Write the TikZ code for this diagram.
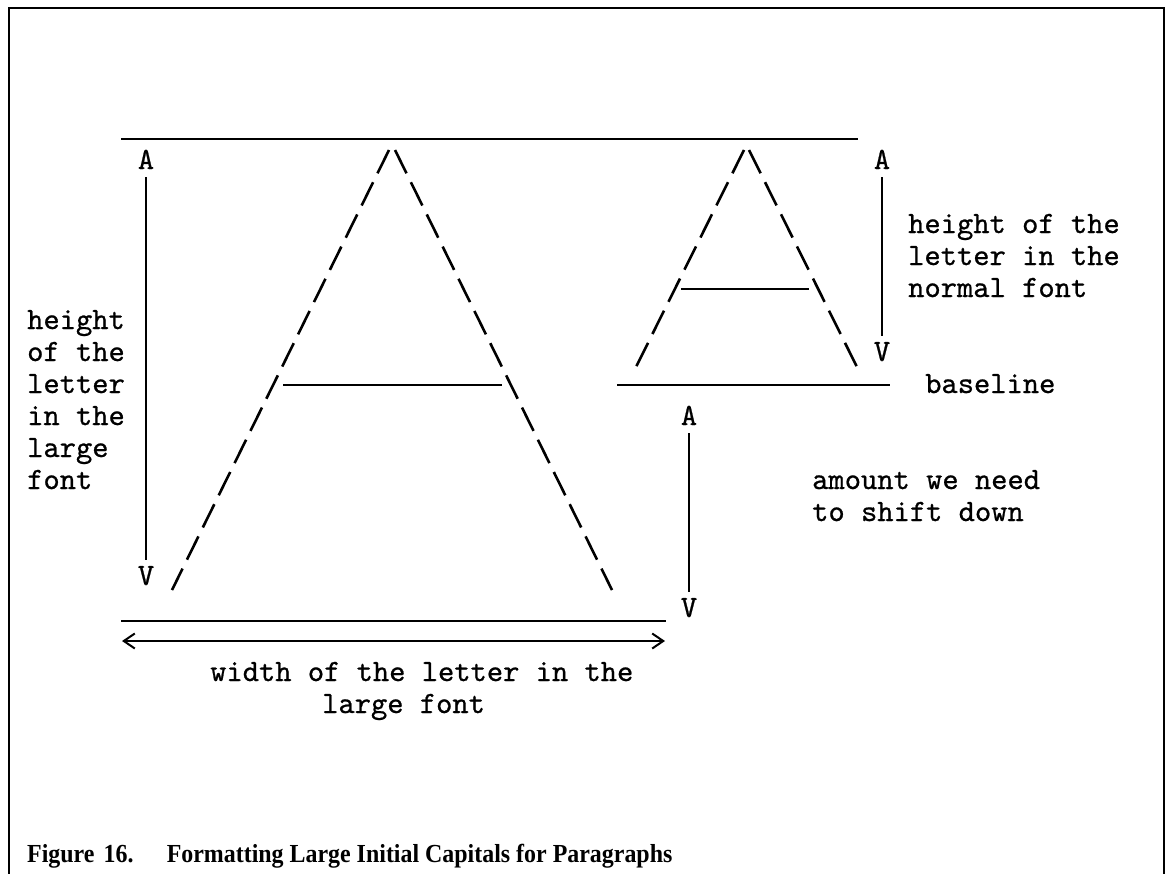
\documentclass[tikz,border=0pt]{standalone}
\usepackage{fontspec}
\usepackage{graphicx}
\newfontfamily\capfont{Liberation Serif}
\newfontfamily\typew[Extension=.otf, FakeBold=0.7]{lmmono10-regular}
\usetikzlibrary{arrows.meta}
\begin{document}
\begin{tikzpicture}[x=1pt,y=-1pt,
  mono/.style={font={\typew\fontsize{31}{32}\selectfont}, inner sep=0pt, anchor=base west},
  marker/.style={font={\typew\fontsize{31}{32}\selectfont}, inner sep=3pt, anchor=base},
  rule/.style={line width=2pt},
  leg/.style={line width=2.6pt, dash pattern=on 26pt off 9.9pt},
  dim/.style={line width=2pt, shorten <=5pt, shorten >=3pt},
  frame/.style={line width=2.5pt}]
\useasboundingbox (0,0) rectangle (1166,873);
% frame
\coordinate (fbl) at (9,880); \coordinate (ftl) at (9,8);
\coordinate (ftr) at (1164,8); \coordinate (fbr) at (1164,880);
\draw[frame] (fbl) -- (ftl) -- (ftr) -- (fbr);
% top line
\coordinate (topL) at (121,139); \coordinate (topR) at (858,139);
\draw[rule] (topL) -- (topR);
% big A
\coordinate (bA1) at (389,150); \coordinate (bA2) at (172,590);
\coordinate (bA3) at (395,150); \coordinate (bA4) at (612,590);
\draw[leg] (bA1) -- (bA2);
\draw[leg] (bA3) -- (bA4);
\coordinate (bcL) at (283,385); \coordinate (bcR) at (502,385);
\draw[rule] (bcL) -- (bcR);
% small A
\coordinate (sA1) at (744,150); \coordinate (sA2) at (636,367);
\coordinate (sA3) at (749,150); \coordinate (sA4) at (857,367);
\draw[leg] (sA1) -- (sA2);
\draw[leg] (sA3) -- (sA4);
\coordinate (scL) at (681,289); \coordinate (scR) at (809,289);
\draw[rule] (scL) -- (scR);
% baseline
\coordinate (blL) at (617,385); \coordinate (blR) at (890,385);
\draw[rule] (blL) -- (blR);
\node[mono] (bltext) at (925,393) {baseline};
% bottom line
\coordinate (botL) at (121,621); \coordinate (botR) at (666,621);
\draw[rule] (botL) -- (botR);
% width arrow
\coordinate (wL) at (122,641); \coordinate (wR) at (665,641);
\draw[rule, {Straight Barb[length=11pt,width=15pt]}-{Straight Barb[length=11pt,width=15pt]}] (wL) -- (wR);
\node[mono] (w1) at (210,681) {width of the letter in the};
\node[mono] (w2) at (322,713) {large font};
% left height marker
\node[marker] (aL) at (146,169) {A};
\node[marker] (vL) at (146,585) {V};
\draw[dim] (aL) -- (vL);
\node[mono] (h1) at (27,329) {height};
\node[mono] (h2) at (27,361) {of the};
\node[mono] (h3) at (27,393) {letter};
\node[mono] (h4) at (27,425) {in the};
\node[mono] (h5) at (27,457) {large};
\node[mono] (h6) at (27,489) {font};
% right height marker
\node[marker] (aR) at (882,169) {A};
\node[marker] (vR) at (882,361) {V};
\draw[dim] (aR) -- (vR);
\node[mono] (n1) at (908,233) {height of the};
\node[mono] (n2) at (908,265) {letter in the};
\node[mono] (n3) at (908,297) {normal font};
% shift marker
\node[marker] (aS) at (689,425) {A};
\node[marker] (vS) at (689,617) {V};
\draw[dim] (aS) -- (vS);
\node[mono] (s1) at (812,489) {amount we need};
\node[mono] (s2) at (812,521) {to shift down};
% caption
\node[inner sep=0pt, anchor=base west, font={\capfont\bfseries\fontsize{26}{30}\selectfont}] (cap) at (27,862)
  {\scalebox{0.92}[1]{Figure\hspace{10pt}16.\hspace{36pt}Formatting Large Initial Capitals for Paragraphs}};
\end{tikzpicture}
\end{document}
